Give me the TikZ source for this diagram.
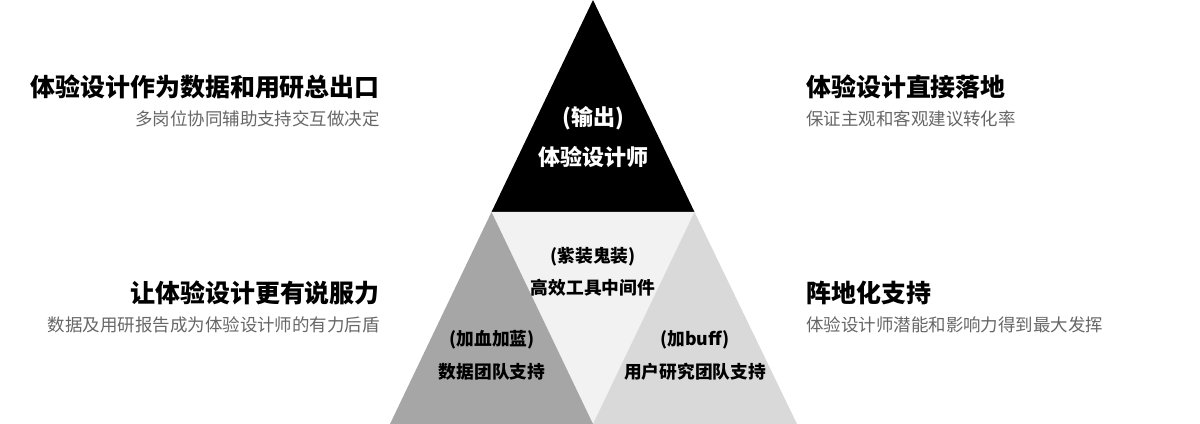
\documentclass[tikz,border=0pt]{standalone}
\usepackage{fontspec}
\setmainfont{Noto Sans CJK SC}
\usetikzlibrary{positioning}
\definecolor{subgray}{HTML}{666666}
\definecolor{darkpart}{HTML}{A6A6A6}
\definecolor{midpart}{HTML}{F2F2F2}
\definecolor{lightpart}{HTML}{D9D9D9}

\begin{document}
\begin{tikzpicture}[
  x=0.75pt, y=-0.75pt,
  head/.style={font=\fontsize{18.7}{21}\selectfont\bfseries, inner sep=0pt},
  sub/.style={font=\fontsize{13.1}{15}\selectfont, text=subgray, inner sep=0pt},
  big/.style={font=\fontsize{16.5}{19}\selectfont\bfseries, inner sep=0pt, text=white},
  small/.style={font=\fontsize{13.3}{15}\selectfont\bfseries, inner sep=0pt}]

\useasboundingbox (0,0) rectangle (1200,424);

% Pyramid corners
\coordinate (apex) at (593,0);
\coordinate (bl) at (390,424);
\coordinate (br) at (797,424);
\coordinate (ml) at (491.5,212);
\coordinate (mr) at (694.5,212);
\coordinate (mb) at (593,424);

\fill[black] (apex) -- (mr) -- (ml) -- cycle;
\fill[midpart] (ml) -- (mr) -- (mb) -- cycle;
\fill[darkpart] (ml) -- (mb) -- (bl) -- cycle;
\fill[lightpart] (mr) -- (br) -- (mb) -- cycle;

% Texts inside the pyramid
\node[big] (t1) at (593,118) {(输出)};
\node[big] (t2) at (593,157) {体验设计师};
\node[small] (m1) at (593,257) {(紫装鬼装)};
\node[small] (m2) at (593,288) {高效工具中间件};
\node[small] (l1) at (492,340) {(加血加蓝)};
\node[small] (l2) at (492,372) {数据团队支持};
\node[small] (r1) at (695,340) {(加buff)};
\node[small] (r2) at (695,372) {用户研究团队支持};

% Left side
\node[head, anchor=east] (lh1) at (380,87) {体验设计作为数据和用研总出口};
\node[sub, anchor=east] (ls1) at (380,119) {多岗位协同辅助支持交互做决定};
\node[head, anchor=east] (lh2) at (380,293) {让体验设计更有说服力};
\node[sub, anchor=east] (ls2) at (380,325) {数据及用研报告成为体验设计师的有力后盾};

% Right side
\node[head, anchor=west] (rh1) at (806,87) {体验设计直接落地};
\node[sub, anchor=west] (rs1) at (806,119) {保证主观和客观建议转化率};
\node[head, anchor=west] (rh2) at (806,293) {阵地化支持};
\node[sub, anchor=west] (rs2) at (806,325) {体验设计师潜能和影响力得到最大发挥};
\end{tikzpicture}
\end{document}
